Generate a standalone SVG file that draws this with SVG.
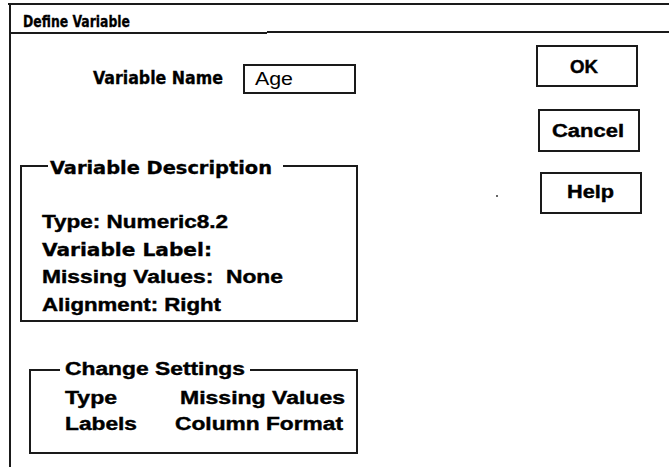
<svg xmlns="http://www.w3.org/2000/svg" width="669" height="467" viewBox="0 0 669 467">
  <style>
    .ln { fill: none; stroke: #1a1a1a; stroke-width: 2; }
    .box { fill: #ffffff; stroke: #1a1a1a; stroke-width: 2; }
    .t { font-family: "Liberation Sans", Arial, sans-serif; font-weight: bold; font-size: 18px; fill: #000; stroke: #000; stroke-width: 0.4; white-space: pre; }
    .c { font-family: "DejaVu Sans Condensed", "Liberation Sans", sans-serif; font-weight: bold; font-size: 18px; fill: #000; stroke: #000; stroke-width: 0.3; }
    .r { font-family: "Liberation Sans", Arial, sans-serif; font-size: 18px; fill: #000; }
  </style>
  <rect width="669" height="467" fill="#ffffff"/>

  <!-- Dialog frame and title bar -->
  <g id="dialog-frame">
    <path class="ln" d="M8 4 H669"/>
    <path class="ln" d="M10 3 V467"/>
    <path class="ln" d="M10 33 H267 M267 32 H669"/>
    <text class="c" x="23" y="27" style="font-size:16.5px" textLength="107" lengthAdjust="spacingAndGlyphs">Define Variable</text>
  </g>

  <!-- Variable name field -->
  <g id="variable-name">
    <text class="c" x="93" y="84" textLength="130" lengthAdjust="spacingAndGlyphs">Variable Name</text>
    <rect class="box" x="244" y="65" width="111" height="28"/>
    <text class="r" x="255" y="85" textLength="38" lengthAdjust="spacingAndGlyphs">Age</text>
  </g>

  <!-- Buttons -->
  <g id="btn-ok">
    <rect class="box" x="537" y="46" width="100" height="40"/>
    <text class="t" x="570" y="73" textLength="28" lengthAdjust="spacingAndGlyphs">OK</text>
  </g>
  <g id="btn-cancel">
    <rect class="box" x="539" y="110" width="100" height="41"/>
    <text class="t" x="552" y="137" textLength="72" lengthAdjust="spacingAndGlyphs">Cancel</text>
  </g>
  <g id="btn-help">
    <rect class="box" x="541" y="173" width="100" height="40"/>
    <text class="t" x="567" y="198" textLength="47" lengthAdjust="spacingAndGlyphs">Help</text>
  </g>

  <!-- Stray dot -->
  <circle cx="497" cy="196" r="1" fill="#333"/>

  <!-- Variable description group box -->
  <g id="variable-description">
    <path class="ln" d="M48 166 H21 V321 H357 V166 H283"/>
    <text class="c" x="50" y="174" textLength="222" lengthAdjust="spacingAndGlyphs">Variable Description</text>
    <text class="t" x="42" y="228" textLength="186" lengthAdjust="spacingAndGlyphs">Type: Numeric8.2</text>
    <text class="c" x="42" y="256" textLength="170" lengthAdjust="spacingAndGlyphs">Variable Label:</text>
    <text class="t" x="42" y="283" textLength="241" lengthAdjust="spacingAndGlyphs" xml:space="preserve">Missing Values:  None</text>
    <text class="t" x="42" y="311" textLength="179" lengthAdjust="spacingAndGlyphs">Alignment: Right</text>
  </g>

  <!-- Change settings group box -->
  <g id="change-settings">
    <path class="ln" d="M60 370 H30 V453 H357 V370 H250"/>
    <text class="t" x="65" y="375" textLength="180" lengthAdjust="spacingAndGlyphs">Change Settings</text>
    <text class="t" x="65" y="404" textLength="52" lengthAdjust="spacingAndGlyphs">Type</text>
    <text class="t" x="180" y="404" textLength="165" lengthAdjust="spacingAndGlyphs">Missing Values</text>
    <text class="t" x="65" y="430" textLength="72" lengthAdjust="spacingAndGlyphs">Labels</text>
    <text class="t" x="175" y="430" textLength="168" lengthAdjust="spacingAndGlyphs">Column Format</text>
  </g>
</svg>
